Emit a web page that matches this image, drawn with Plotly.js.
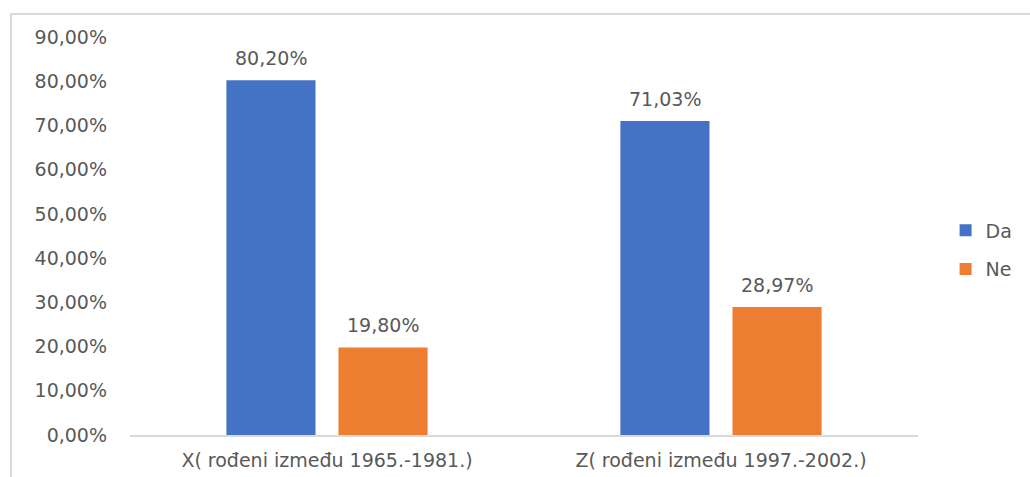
<!DOCTYPE html>
<html>
<head>
<meta charset="utf-8">
<script src="https://cdn.plot.ly/plotly-3.0.1.min.js"></script>
<style>
  html, body { margin: 0; padding: 0; background: #fff; }
  #wrap { position: relative; width: 1030px; height: 477px; }
  #chart { position: absolute; left: 0; top: 0; width: 1030px; height: 477px; }
  #frame { position: absolute; left: 10px; top: 13px; width: 1030px; height: 480px;
           border-top: 2px solid #d9d9d9; border-left: 2px solid #d9d9d9; pointer-events: none; }
</style>
</head>
<body>
<div id="wrap">
  <div id="chart"></div>
  <div id="frame"></div>
</div>
<script>
const categories = ["X( rođeni između 1965.-1981.)", "Z( rođeni između 1997.-2002.)"];
const seriesNames = ["Da", "Ne"];
const daValues = [80.20, 71.03];
const neValues = [19.80, 28.97];
const colors = ["#4472C4", "#ED7D31"];
const textColor = "#595959";
const fontFamily = "'DejaVu Sans', 'Open Sans', sans-serif";
const fontSize = 19;

const allSeries = [daValues, neValues];

const traces = allSeries.map((vals, i) => ({
  type: "bar",
  name: seriesNames[i],
  x: categories,
  y: vals,
  marker: { color: colors[i] },
  legendgroup: "g" + i,
  hoverinfo: "skip"
}));

// data labels placed above each bar (shifted to the bar slot within the group)
const slotShift = [-56, 56];
const fmt = v => v.toFixed(2).replace(".", ",") + "%";
const annotations = [];
allSeries.forEach((vals, i) => {
  vals.forEach((v, j) => {
    annotations.push({
      x: categories[j], y: v, xref: "x", yref: "y",
      text: fmt(v), showarrow: false,
      xshift: slotShift[i], yshift: 9, yanchor: "bottom",
      font: { size: fontSize, color: textColor, family: fontFamily }
    });
  });
});

const layout = {
  width: 1030,
  height: 477,
  margin: { l: 130, r: 112, t: 37, b: 42 },
  paper_bgcolor: "#ffffff",
  plot_bgcolor: "#ffffff",
  separators: ",.",
  barmode: "group",
  bargap: 0.431,
  bargroupgap: 0.205,
  font: { family: fontFamily, color: textColor, size: fontSize },
  showlegend: true,
  annotations: annotations,
  legend: {
    x: 1.035, xanchor: "left",
    y: 0.465, yanchor: "middle",
    traceorder: "grouped",
    tracegroupgap: 11,
    font: { size: fontSize, color: textColor, family: fontFamily },
    bgcolor: "rgba(0,0,0,0)"
  },
  xaxis: {
    type: "category",
    showline: true,
    linecolor: "#d9d9d9",
    linewidth: 1.5,
    showgrid: false,
    zeroline: false,
    ticks: "",
    ticklabelstandoff: 8,
    tickfont: { size: fontSize, color: textColor, family: fontFamily }
  },
  yaxis: {
    range: [0, 90],
    dtick: 10,
    tick0: 0,
    tickformat: ".2f",
    ticksuffix: "%",
    showgrid: false,
    zeroline: false,
    showline: false,
    ticks: "",
    ticklabelstandoff: 22,
    tickfont: { size: fontSize, color: textColor, family: fontFamily }
  }
};

Plotly.newPlot("chart", traces, layout, { displayModeBar: false, staticPlot: true });
</script>
</body>
</html>
